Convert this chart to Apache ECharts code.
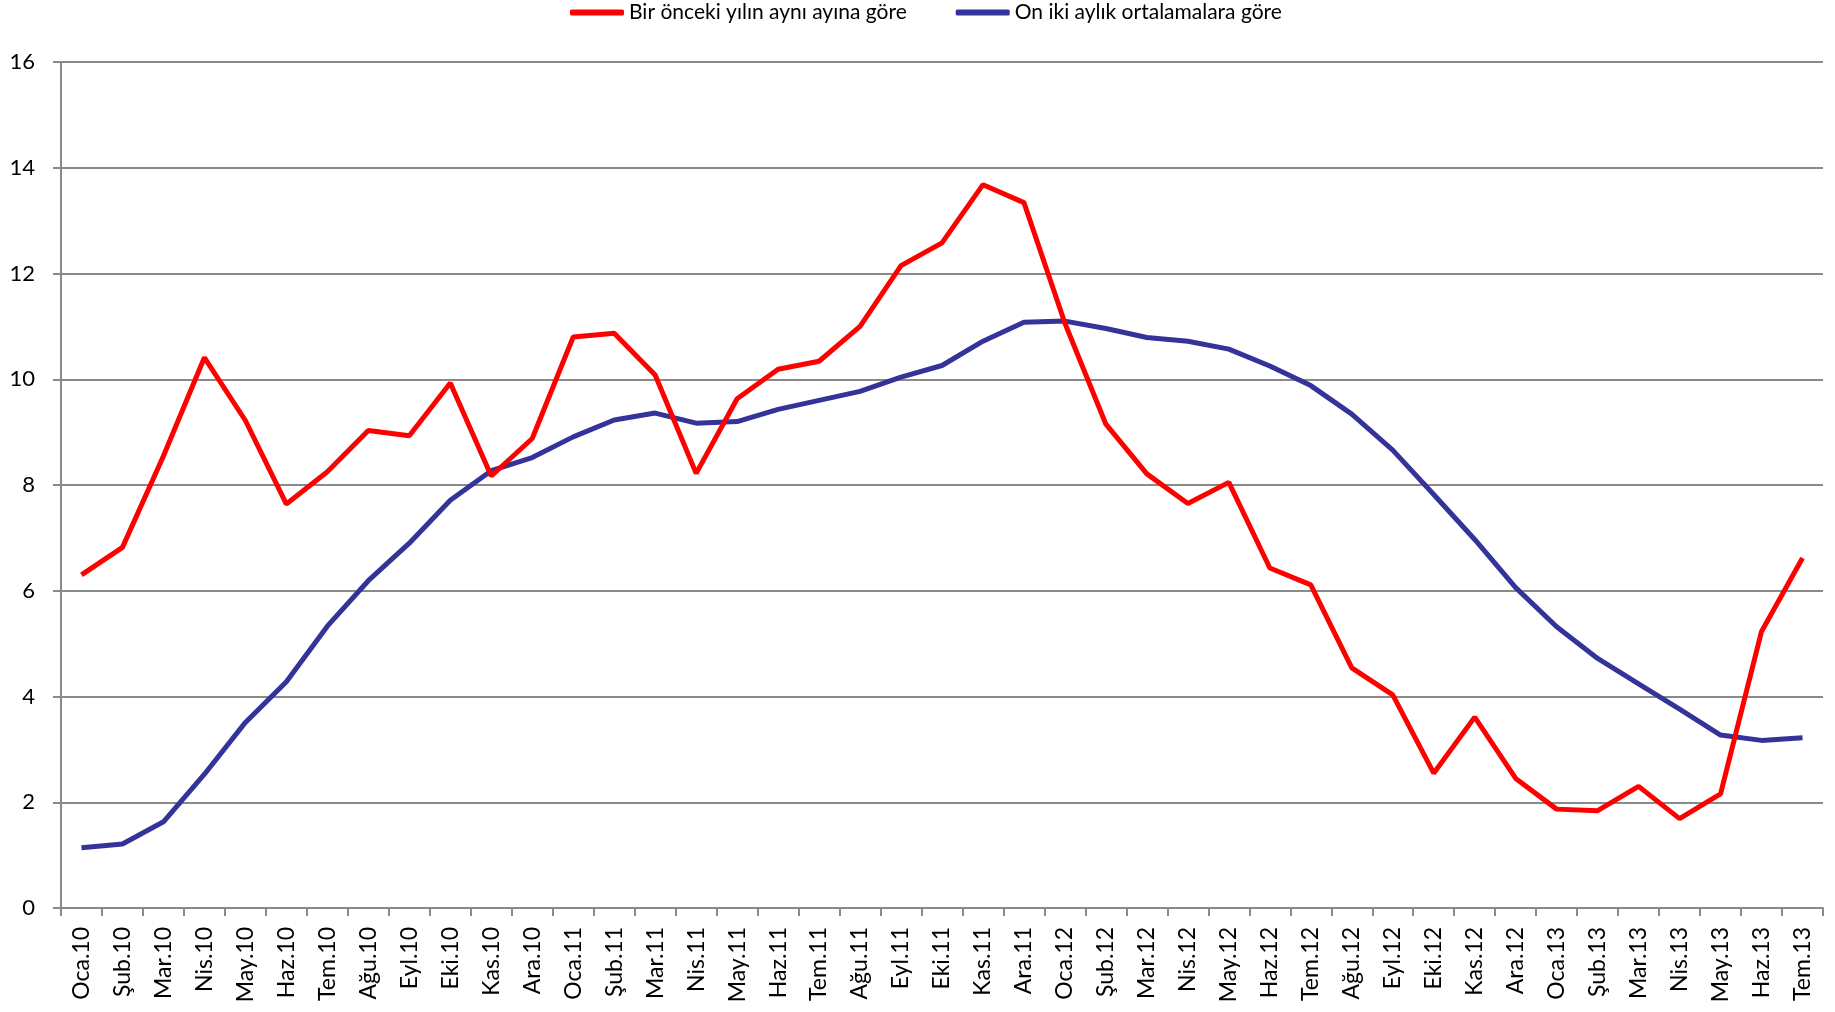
<!DOCTYPE html>
<html>
<head>
<meta charset="utf-8">
<script src="https://cdn.jsdelivr.net/npm/echarts@6/dist/echarts.min.js"></script>
<style>
  html, body { margin: 0; padding: 0; background: #fff; }
  #chart { width: 1835px; height: 1012px; }
</style>
</head>
<body>
<div id="chart"></div>
<script>
// aylar
const categories = [
  'Oca.10', 'Şub.10', 'Mar.10', 'Nis.10', 'May.10', 'Haz.10', 'Tem.10', 'Ağu.10', 'Eyl.10', 'Eki.10', 'Kas.10', 'Ara.10',
  'Oca.11', 'Şub.11', 'Mar.11', 'Nis.11', 'May.11', 'Haz.11', 'Tem.11', 'Ağu.11', 'Eyl.11', 'Eki.11', 'Kas.11', 'Ara.11',
  'Oca.12', 'Şub.12', 'Mar.12', 'Nis.12', 'May.12', 'Haz.12', 'Tem.12', 'Ağu.12', 'Eyl.12', 'Eki.12', 'Kas.12', 'Ara.12',
  'Oca.13', 'Şub.13', 'Mar.13', 'Nis.13', 'May.13', 'Haz.13', 'Tem.13'
];

// Bir önceki yılın aynı ayına göre
const yillik = [
  6.30, 6.82, 8.55, 10.41, 9.22, 7.64, 8.25, 9.03, 8.93, 9.93, 8.17, 8.88,
  10.80, 10.87, 10.08, 8.22, 9.63, 10.19, 10.34, 11.00, 12.15, 12.58, 13.68, 13.34,
  11.06, 9.15, 8.21, 7.65, 8.05, 6.43, 6.11, 4.54, 4.03, 2.55, 3.61, 2.45,
  1.87, 1.84, 2.30, 1.69, 2.16, 5.23, 6.62
];

// On iki aylık ortalamalara göre
const ortalama = [
  1.14, 1.21, 1.63, 2.53, 3.51, 4.28, 5.33, 6.19, 6.90, 7.71, 8.27, 8.52,
  8.91, 9.23, 9.36, 9.17, 9.20, 9.43, 9.60, 9.77, 10.04, 10.26, 10.72, 11.08,
  11.10, 10.96, 10.79, 10.72, 10.57, 10.25, 9.88, 9.34, 8.66, 7.82, 6.97, 6.06,
  5.32, 4.72, 4.24, 3.76, 3.27, 3.17, 3.22
];

const yTicks = { min: 0, max: 16, interval: 2 };

const chart = echarts.init(document.getElementById('chart'));
const gray = '#8a8a8a';

chart.setOption({
  animation: false,
  backgroundColor: '#fff',
  legend: {
    top: 2,
    left: 570,
    padding: 0,
    itemWidth: 54,
    itemHeight: 6,
    itemGap: 49,
    icon: 'roundRect',
    textStyle: { fontFamily: 'Lato', fontSize: 21, color: '#000' },
    data: ['Bir önceki yılın aynı ayına göre', 'On iki aylık ortalamalara göre']
  },
  grid: { left: 61, right: 12, top: 62, bottom: 104, containLabel: false },
  xAxis: {
    type: 'category',
    data: categories,
    boundaryGap: true,
    axisLine: { lineStyle: { color: gray, width: 2 } },
    axisTick: { show: true, alignWithLabel: false, length: 8, lineStyle: { color: gray, width: 2 } },
    axisLabel: {
      interval: 0,
      rotate: 90,
      margin: 19,
      fontFamily: 'Lato',
      fontSize: 23,
      color: '#000'
    }
  },
  yAxis: {
    type: 'value',
    min: yTicks.min,
    max: yTicks.max,
    interval: yTicks.interval,
    axisLine: { show: true, lineStyle: { color: gray, width: 2 } },
    axisTick: { show: true, length: 8, lineStyle: { color: gray, width: 2 } },
    axisLabel: { margin: 26, fontFamily: 'Lato', fontSize: 22, color: '#000' },
    splitLine: { lineStyle: { color: gray, width: 2 } }
  },
  series: [
    {
      name: 'Bir önceki yılın aynı ayına göre',
      type: 'line',
      data: yillik,
      showSymbol: false,
      symbol: 'none',
      color: '#ff0000',
      lineStyle: { width: 5, color: '#ff0000' },
      z: 3
    },
    {
      name: 'On iki aylık ortalamalara göre',
      type: 'line',
      data: ortalama,
      showSymbol: false,
      symbol: 'none',
      color: '#333399',
      lineStyle: { width: 5, color: '#333399' },
      z: 2
    }
  ]
});
</script>
</body>
</html>
